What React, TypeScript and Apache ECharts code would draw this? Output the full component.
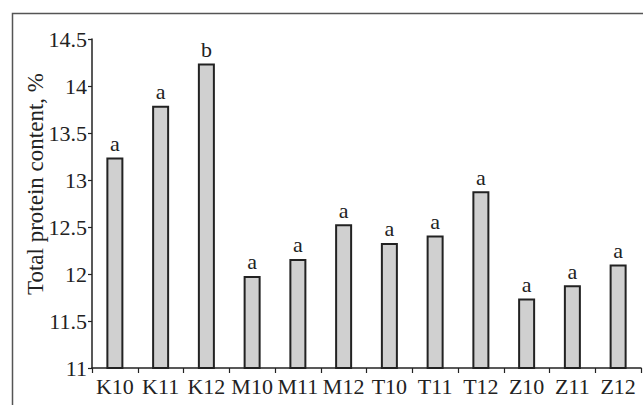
import React, { useEffect, useRef } from "react";
import * as echarts from "echarts";

const categories = ["K10", "K11", "K12", "M10", "M11", "M12", "T10", "T11", "T12", "Z10", "Z11", "Z12"];
const values = [13.24, 13.79, 14.24, 11.98, 12.16, 12.53, 12.33, 12.41, 12.88, 11.74, 11.88, 12.1];
const letters = ["a", "a", "b", "a", "a", "a", "a", "a", "a", "a", "a", "a"];
const yTitle = "Total protein content, %";

const FONT = "Liberation Serif";
const FS = 22;

export default function App() {
  const ref = useRef<HTMLDivElement>(null);
  useEffect(() => {
    if (!ref.current) return;
    const chart = echarts.init(ref.current, undefined, { renderer: "svg" });
    chart.setOption({
      animation: false,
      backgroundColor: "#ffffff",
      textStyle: { fontFamily: FONT },
      graphic: [
        {
          type: "rect",
          z: -1,
          shape: { x: 12.5, y: 13.5, width: 800, height: 600 },
          style: { fill: "none", stroke: "#555555", lineWidth: 1.5 },
          silent: true,
        },
        {
          type: "text",
          x: 35,
          y: 184,
          rotation: Math.PI / 2,
          style: {
            text: yTitle,
            fill: "#222",
            font: `23px ${FONT}`,
            align: "center",
            verticalAlign: "middle",
          },
          silent: true,
        },
      ],
      grid: { left: 92, top: 39, right: 2, bottom: 37, containLabel: false },
      xAxis: {
        type: "category",
        data: categories,
        axisLine: { lineStyle: { color: "#222", width: 1.5 } },
        axisTick: { show: true, length: 5, inside: false, lineStyle: { color: "#222", width: 1.2 } },
        axisLabel: { color: "#222", fontSize: FS, fontFamily: FONT, margin: 7, interval: 0 },
      },
      yAxis: {
        type: "value",
        min: 11,
        max: 14.5,
        interval: 0.5,
        splitLine: { show: false },
        axisLine: { show: true, lineStyle: { color: "#222", width: 1.5 } },
        axisTick: { show: true, length: 4, lineStyle: { color: "#222", width: 1.2 } },
        axisLabel: { color: "#222", fontSize: FS, fontFamily: FONT, margin: 5 },
      },
      series: [
        {
          type: "bar",
          data: values.map((v, i) => ({ value: v, label: { formatter: letters[i] } })),
          barWidth: 17,
          itemStyle: { color: "#d0d0d0", borderColor: "#222", borderWidth: 2 },
          label: {
            show: true,
            position: "top",
            distance: 3,
            color: "#222",
            fontSize: FS,
            fontFamily: FONT,
          },
        },
      ],
    });
    return () => chart.dispose();
  }, []);
  return (
    <div
      ref={ref}
      style={{ position: "fixed", left: 0, top: 0, width: 643, height: 405 }}
    />
  );
}
